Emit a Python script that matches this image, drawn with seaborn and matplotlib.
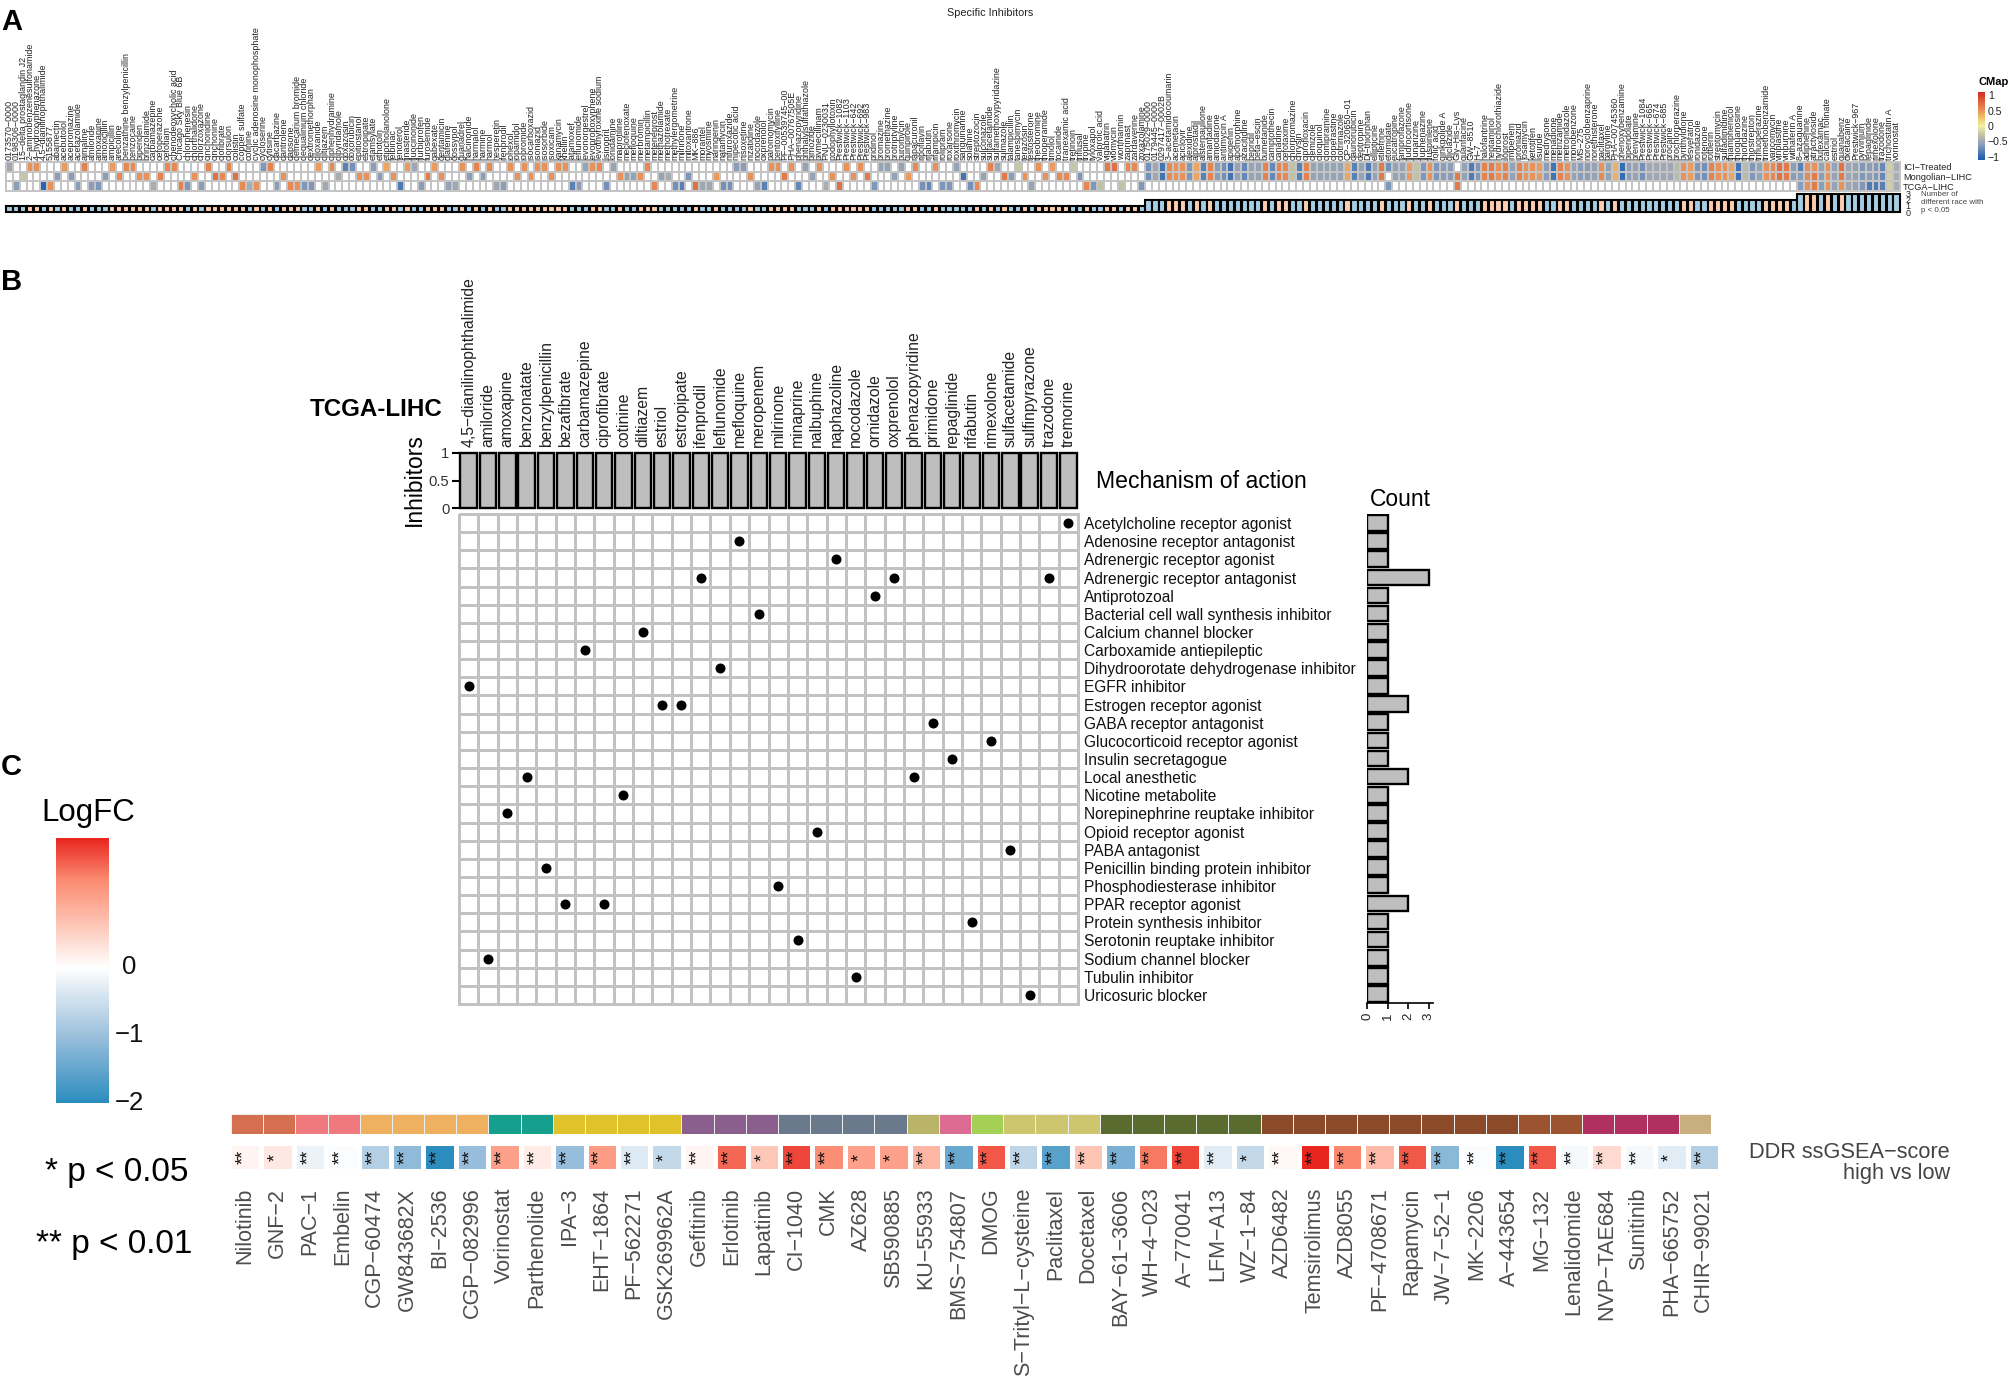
import numpy as np
import pandas as pd
import matplotlib
matplotlib.use("Agg")
import matplotlib.pyplot as plt
from matplotlib.colors import LinearSegmentedColormap, ListedColormap
from matplotlib.transforms import ScaledTranslation
import seaborn as sns

sns.set_theme(style="white")
plt.rcParams['font.family'] = ['Liberation Sans', 'DejaVu Sans']

_ = float('nan')
# ---------- Panel A data ----------
drugs_a = """0173570-0000|0198306-0000|15-delta prostaglandin J2|2-aminobenzenesulfonamide|4-hydroxyphenazone|4,5-dianilinophthalimide|5155877|abamectin|acebutolol|acepromazine|acetazolamide|ajmaline|amiloride|amoxapine|amoxicillin|ampicillin|arecoline|benzathine benzylpenicillin|benzocaine|biperiden|brinzolamide|carbamazepine|cefoperazone|cefotiam|chenodeoxycholic acid|Chicago Sky Blue 6B|chlorphenesin|chlorthalidone|chlorzoxazone|cinchonidine|cinchonine|clofibrate|clorsulon|colistin|copper sulfate|cotinine|cyclic adenosine monophosphate|cycloserine|cytisine|dacarbazine|dantrolene|dapsone|demecarium bromide|dequalinium chloride|dextromethorphan|diloxanide|diltiazem|diphenhydramine|dipyridamole|doxazosin|doxorubicin|epitiostanol|estropipate|etamsylate|ethotoin|etiocholanolone|felbinac|fenoterol|finasteride|fluocinonide|flurbiprofen|furosemide|gabexate|gentamicin|glafenine|gossypol|guanadrel|halcinonide|harmalol|harmine|harmol|hesperetin|ifenprodil|iohexol|iopamidol|iopromide|isocarboxazid|isoniazid|isosorbide|isoxicam|kanamycin|khellin|latamoxef|leflunomide|levonorgestrel|levopropoxyphene|levothyroxine sodium|lisinopril|lonidamine|maprotiline|meclofenoxate|mefloquine|merbromin|metampicillin|meteneprost|methazolamide|methotrexate|methylergometrine|milrinone|mitoxantrone|MK-886|morantel|myosmine|naringenin|natamycin|nifuroxazide|nipecotic acid|nisoxetine|nizatidine|nocodazole|oxprenolol|paromomycin|pentoxifylline|PF-00539745-00|PHA-00767505E|phenazopyridine|phthalylsulfathiazole|pimozide|pivmecillinam|PNU-0230031|podophyllotoxin|Prestwick-1082|Prestwick-1103|Prestwick-642|Prestwick-692|Prestwick-983|pridinol|promazine|promethazine|protriptyline|puromycin|quinpirole|rapacuronil|riboflavin|rifabutin|rifampicin|rolipram|roxarsone|roxithromycin|sanguinarine|solanine|streptozocin|sulconazole|sulfacetamide|sulfamethoxypyridazine|sulmazole|talampicillin|tanespimycin|terazosin|testosterone|theobromine|thioperamide|timolol|tocainide|tranexamic acid|tretinoin|triflusal|tropine|tyloxapol|valproic acid|vigabatrin|viomycin|wortmannin|zaprinast|zardaverine|zoxazolamine|0175029-0000|0179445-0000|0297417-0002B|3-acetamidocoumarin|acemetacin|aciclovir|alexidine|alprostadil|alsterpaullone|amantadine|amiodarone|antimycin A|apigenin|apomorphine|azacitidine|bepridil|beta-escin|bumetanide|camptothecin|canadine|cefotaxime|chlorpromazine|chrysin|ciprofloxacin|clemizole|clioquinol|clomipramine|cloperastine|clotrimazole|CP-320650-01|daunorubicin|deptropine|Dl-thiorphan|ellipticine|etilefrine|etomidate|eucatropine|famprofazone|fludrocortisone|flunarizine|fluphenazine|fluspirilene|folic acid|ginkgolide A|gliclazide|Gly-His-Lys|guanfacine|GW-8510|H-7|halofantrine|heptaminol|hydrochlorothiazide|iloprost|imipenem|iproniazid|josamycin|ketotifen|lisuride|medrysone|menadione|metrizamide|metronidazole|monobenzone|MS-275|norcyclobenzaprine|norethisterone|paclitaxel|pargyline|PHA-00745360|phenoxybenzamine|piperidolate|prenylamine|Prestwick-1084|Prestwick-665|Prestwick-674|Prestwick-685|procaine|prochlorperazine|pyrithyldione|resveratrol|ronidazole|rotenone|rottlerin|streptomycin|sulfadimidine|thiamphenicol|thioguanosine|thioridazine|thiostrepton|trifluoperazine|trimethobenzamide|vancomycin|vinblastine|vinburnine|withaferin A|8-azaguanine|adiphenine|atractyloside|bufexamac|calcium folinate|estriol|guanabenz|oxetacaine|Prestwick-967|pyrvinium|repaglinide|rimexolone|trazodone|trichostatin A|vorinostat""".split('|')
drugs_a = [d.replace('-', '\u2212') for d in drugs_a]

ici = [-.5,_,_,.5,.5,_,_,_,.45,_,
       _,.6,_,_,_,.45,_,.55,.55,_,
       _,_,_,.55,.55,_,_,_,_,.6,
       _,_,.6,_,_,_,_,-.65,.6,_,
       _,_,_,_,_,.45,_,.55,_,-.8,
       -.7,_,_,-.6,_,.4,_,_,.45,-.5,
       _,_,.45,_,_,_,.5,_,.6,_,
       .55,_,_,.5,_,.5,_,.5,.5,_,
       .5,.5,_,_,-.55,.5,.55,_,-.55,_,
       _,_,_,.55,_,_,_,_,_,_,
       _,_,_,_,_,_,-.6,-.6,_,_,
       _,.5,.5,_,.5,_,-.55,_,.5,_,
       _,_,.5,_,.5,_,_,-.55,-.55,_,
       -.55,_,.55,_,_,.5,_,_,-.55,_,
       _,_,_,.6,-.5,_,_,-.25,_,_,
       .5,_,.45,_,_,-.25,_,_,_,_,
       .65,.7,_,.55,.55,_,-.7,-.5,-.9,.55,
       .5,.5,-.65,.4,-.8,.6,-.6,-.7,-.9,-.55,
       -.75,-.55,-.55,.6,-.75,.6,.55,-.3,-.8,.6,
       -.55,-.55,-.55,-.55,-.55,.4,-.8,-.55,-.85,-.55,
       .65,-.7,-.55,-.55,.45,-.3,-.65,.5,-.65,-.6,
       -.6,_,-.55,-.85,-.65,.6,.65,.5,.6,-.55,
       .6,.5,.5,.45,-.6,-.9,.6,.5,-.55,-.6,
       -.6,-.55,.5,-.55,.35,-.95,-.6,-.55,-.7,-.5,
       -.5,-.5,-.5,-.35,.5,.45,-.65,-.7,.6,.5,
       .5,.4,-.9,-.35,-.65,-.55,.5,.55,.7,.65,
       -.6,-.8,.5,.5,-.55,.5,-.55,.7,-.5,-.55,
       -.65,-.6,-.65,-.75,-.2,-.45]

mongolian = [_,_,-.25,_,_,_,_,-.6,_,-.6,
       _,_,_,_,-.6,_,.55,_,_,.5,
       .5,_,.6,_,_,_,_,.5,_,_,
       .7,.55,_,.7,_,_,_,_,_,_,
       .5,_,_,_,_,_,_,_,-.45,_,
       _,.5,.5,_,-.6,_,.5,_,_,_,
       _,.65,_,.5,_,_,_,-.6,_,-.6,
       _,_,_,_,.5,_,.5,_,_,.5,
       _,_,_,_,_,_,_,_,_,.5,
       -.55,-.55,.5,_,_,-.55,-.45,_,_,-.65,
       _,_,_,.45,_,_,_,_,.5,_,
       _,_,_,.65,_,_,_,-.55,_,_,
       .5,_,_,.5,_,.65,_,_,_,-.55,
       _,.45,_,_,_,_,_,_,_,-.9,
       _,_,-.55,_,_,.65,-.6,_,.5,_,
       _,.5,_,.55,.55,_,-.65,_,_,_,
       _,_,_,_,_,_,-.7,-.5,-.9,.55,
       .5,.5,-.65,.4,-.8,.6,-.6,-.7,-.9,-.55,
       -.75,-.55,-.55,.6,-.75,.6,.55,-.3,-.8,.6,
       -.55,-.55,-.55,-.55,-.55,.4,-.8,-.55,-.85,-.55,
       .65,_,-.55,-.55,.45,-.3,-.65,.5,-.65,-.6,
       -.6,.65,-.55,-.85,-.65,.6,.65,.5,.6,-.55,
       .6,.5,.5,.45,-.6,-.9,.6,.5,-.55,-.6,
       -.6,-.55,.55,-.55,.35,-.95,-.6,-.55,-.7,-.5,
       -.5,-.5,-.5,-.35,.5,.45,-.65,-.7,.6,.5,
       .5,.4,-.9,-.35,-.65,-.55,.5,.55,.7,.65,
       -.6,-.6,.55,.65,-.6,.5,-.55,.65,-.5,-.55,
       -.65,-.6,-.65,-.75,-.2,-.45]

tcga = [_,-.6,_,_,_,-1,.5,_,_,_,
       -.6,_,-.6,-.65,_,_,_,_,_,_,
       _,-.45,_,_,_,.6,-.65,_,-.6,_,
       _,_,_,_,.55,-.45,.5,_,_,-.6,
       _,.55,.5,-.65,-.65,_,-.5,_,_,_,
       _,_,_,_,_,_,_,-.85,_,_,
       -.6,_,_,_,-.55,-.5,_,_,_,_,
       _,-.5,-.6,_,_,_,_,_,_,_,
       _,_,-.8,-.6,_,_,_,-.7,_,_,
       _,_,_,_,.55,_,_,-.7,-.8,_,
       .7,-.5,-.5,_,-.7,-.7,_,_,_,-.55,
       -.8,_,_,_,_,-.75,_,_,_,-.45,
       _,.7,_,_,_,_,-.65,_,_,_,
       _,_,_,-.7,-.75,_,-.65,-.65,_,_,
       -.7,.55,_,_,_,_,_,_,_,-.55,
       _,_,_,_,_,_,_,.55,-.65,-.3,
       _,_,-.3,_,_,-.65] + [_]*35 + [-.65] + [_]*9 + [.65] + [_]*49 + [
       -.6,.5,.65,-.6,.5,-.55,.5,-.5,-.55,-.65,-.85,-.85,-.8,-.2,-.45]
mongolian[148] = .5
rows_a = ['ICI\u2212Treated', 'Mongolian\u2212LIHC', 'TCGA\u2212LIHC']

# ---------- Panel B data ----------
drugs_b = ['4,5\u2212dianilinophthalimide','amiloride','amoxapine','benzonatate','benzylpenicillin','bezafibrate',
           'carbamazepine','ciprofibrate','cotinine','diltiazem','estriol','estropipate','ifenprodil','leflunomide',
           'mefloquine','meropenem','milrinone','minaprine','nalbuphine','naphazoline','nocodazole','ornidazole',
           'oxprenolol','phenazopyridine','primidone','repaglinide','rifabutin','rimexolone','sulfacetamide',
           'sulfinpyrazone','trazodone','tremorine']
moa = ['Acetylcholine receptor agonist','Adenosine receptor antagonist','Adrenergic receptor agonist',
       'Adrenergic receptor antagonist','Antiprotozoal','Bacterial cell wall synthesis inhibitor',
       'Calcium channel blocker','Carboxamide antiepileptic','Dihydroorotate dehydrogenase inhibitor',
       'EGFR inhibitor','Estrogen receptor agonist','GABA receptor antagonist','Glucocorticoid receptor agonist',
       'Insulin secretagogue','Local anesthetic','Nicotine metabolite','Norepinephrine reuptake inhibitor',
       'Opioid receptor agonist','PABA antagonist','Penicillin binding protein inhibitor',
       'Phosphodiesterase inhibitor','PPAR receptor agonist','Protein synthesis inhibitor',
       'Serotonin reuptake inhibitor','Sodium channel blocker','Tubulin inhibitor','Uricosuric blocker']
moa_members = [['tremorine'],['mefloquine'],['naphazoline'],['ifenprodil','oxprenolol','trazodone'],['ornidazole'],
               ['meropenem'],['diltiazem'],['carbamazepine'],['leflunomide'],['4,5\u2212dianilinophthalimide'],
               ['estriol','estropipate'],['primidone'],['rimexolone'],['repaglinide'],['benzonatate','phenazopyridine'],
               ['cotinine'],['amoxapine'],['nalbuphine'],['sulfacetamide'],['benzylpenicillin'],['milrinone'],
               ['bezafibrate','ciprofibrate'],['rifabutin'],['minaprine'],['amiloride'],['nocodazole'],['sulfinpyrazone']]

# ---------- Panel C data ----------
drugs_c = ['Nilotinib','GNF-2','PAC-1','Embelin','CGP-60474','GW843682X','BI-2536','CGP-082996','Vorinostat',
           'Parthenolide','IPA-3','EHT-1864','PF-562271','GSK269962A','Gefitinib','Erlotinib','Lapatinib','CI-1040',
           'CMK','AZ628','SB590885','KU-55933','BMS-754807','DMOG','S-Trityl-L-cysteine','Paclitaxel','Docetaxel',
           'BAY-61-3606','WH-4-023','A-770041','LFM-A13','WZ-1-84','AZD6482','Temsirolimus','AZD8055','PF-4708671',
           'Rapamycin','JW-7-52-1','MK-2206','A-443654','MG-132','Lenalidomide','NVP-TAE684','Sunitinib',
           'PHA-665752','CHIR-99021']
drugs_c = [d.replace('-', '\u2212') for d in drugs_c]
logfc = [.12,.25,-.2,-.05,-.75,-1.1,-2,-1.05,1.05,.2,-1.05,1.1,-.35,-.6,.12,1.5,.6,1.7,1.25,1.05,1.05,.8,-1.45,1.6,
         -.65,-1.6,.65,-1.3,1.4,1.7,-.3,-.6,.08,1.9,1.3,.75,1.6,-1.15,-.05,-2,1.6,-.1,.4,-.12,-.3,-.75]
stars = ['**','*','**','**','**','**','**','**','**','**','**','**','**','*','**','**','*','**','**','*','*','**','**',
         '**','**','**','**','**','**','**','**','*','**','**','**','**','**','**','**','**','**','**','**','**','*','**']
class_sizes = [2,2,4,2,4,3,4,1,1,1,3,5,8,2,3,1]
class_colors = ['#d4704f','#f0797d','#efb060','#14a08c','#e0c22a','#8b5f8d','#6a7a8c','#bab468','#dd6c92','#a3d055',
                '#cdc66f','#5a6b2f','#8b4a2a','#9c5430','#b03060','#c9ae80']

assert len(drugs_a) == len(ici) == len(mongolian) == len(tcga) == 276, (len(drugs_a), len(ici), len(mongolian), len(tcga))

W, H = 2010, 1378
fig = plt.figure(figsize=(W/100, H/100), dpi=100, facecolor='white')

def ax_px(x0, y0, x1, y1):
    return fig.add_axes([x0/W, 1-y1/H, (x1-x0)/W, (y1-y0)/H])

def txt(x, y, s, **kw):
    kw.setdefault('ha', 'left'); kw.setdefault('va', 'center')
    return fig.text(x/W, 1-y/H, s, **kw)

# ---------- Panel A ----------
txt(1, 22, 'A', fontsize=21, fontweight='bold', color='black')
txt(990, 13, 'Specific Inhibitors', fontsize=7.8, ha='center', color='#222222')

cmap_a = LinearSegmentedColormap.from_list('cmap', [
    (0.0, '#1f5ca8'), (0.1/2.2, '#2a66b0'), (0.45/2.2, '#7f97bb'), (0.6/2.2, '#a0a8b4'), (0.85/2.2, '#c6c8a4'),
    (1.1/2.2, '#f4efa4'), (1.35/2.2, '#f1c46c'), (1.6/2.2, '#e9925a'), (1.85/2.2, '#dd6a40'), (2.1/2.2, '#d73c2c'),
    (1.0, '#d43027')])
cmap_a.set_bad('white')

ax_a = ax_px(6, 162, 1900, 191)
cax_a = ax_px(1978, 92, 1985, 160)
mat_a = pd.DataFrame([ici, mongolian, tcga], index=rows_a, columns=drugs_a)
sns.heatmap(mat_a, ax=ax_a, cbar_ax=cax_a, cmap=cmap_a, vmin=-1.1, vmax=1.1, linewidths=1.15, linecolor='#c4c4c4',
            xticklabels=drugs_a, yticklabels=rows_a)
ax_a.collections[0].set_clip_on(False)
ax_a.xaxis.tick_top()
ax_a.yaxis.tick_right()
ax_a.tick_params(axis='x', length=0, pad=1.5, labelsize=6.4, rotation=90, colors='#222222')
ax_a.tick_params(axis='y', length=0, pad=2, labelsize=6.6, rotation=0, colors='#222222')
ax_a.set_xlabel(''); ax_a.set_ylabel('')
for t in ax_a.get_xticklabels():
    t.set_va('bottom')
cb = ax_a.collections[0].colorbar
cb.outline.set_visible(False)
cb.set_ticks([-1, -.5, 0, .5, 1], labels=['\u22121', '\u22120.5', '0', '0.5', '1'])
cb.ax.tick_params(length=5, width=1, color='white', direction='in', labelsize=7.6, pad=2, labelcolor='#222222')
txt(1978, 82, 'CMap', fontsize=8, fontweight='bold', color='black')

n_sig = np.sum(~np.isnan(mat_a.values), axis=0)
direction = np.where(np.nanmean(mat_a.values, axis=0) > 0, 'up', 'down')
df_bars = pd.DataFrame({'pos': np.arange(276), 'n': n_sig, 'direction': direction})
ax_n = ax_px(6, 193.5, 1900, 212)
sns.barplot(data=df_bars, x='pos', y='n', hue='direction', dodge=False, width=.9, ax=ax_n, legend=False,
            palette={'up': '#fdcdb0', 'down': '#a6cee3'}, edgecolor='black', linewidth=1.5, saturation=1)
for p in ax_n.patches:
    p.set_clip_on(False)
ax_n.set_xlim(-.5, 275.5); ax_n.set_ylim(0, 3)
ax_n.set_xticks([]); ax_n.set_xlabel(''); ax_n.set_ylabel('')
ax_n.yaxis.tick_right()
ax_n.set_yticks([0, 1, 2, 3], labels=['0', '1', '2', '3'])
ax_n.tick_params(axis='y', length=2.5, width=1.2, color='black', pad=1.5, labelsize=6.5, right=True, left=False,
                 labelrotation=0)
sns.despine(ax=ax_n, left=True, bottom=True, top=True, right=False)
ax_n.spines['right'].set_color('black'); ax_n.spines['right'].set_linewidth(1.2)
txt(1921, 194, 'Number of', fontsize=5.7, color='#444444')
txt(1921, 202, 'different race with', fontsize=5.7, color='#444444')
txt(1921, 211, 'p < 0.05', fontsize=5.7, color='#444444')

# ---------- Panel B ----------
txt(1, 282, 'B', fontsize=21, fontweight='bold', color='black')
txt(310, 410, 'TCGA-LIHC', fontsize=17.4, fontweight='bold', color='black')
txt(1096, 481, 'Mechanism of action', fontsize=16.6, color='black')
txt(1400, 500, 'Count', fontsize=16.5, ha='center', color='black')

member = np.array([[d in m for d in drugs_b] for m in moa_members], dtype=float)

ax_top = ax_px(459, 453, 1078, 508)
df_top = pd.DataFrame({'drug': drugs_b, 'n': member.sum(axis=0)})
sns.barplot(data=df_top, x='drug', y='n', order=drugs_b, color='#bebebe', saturation=1, width=.85, ax=ax_top,
            edgecolor='black', linewidth=1.7)
for p in ax_top.patches:
    p.set_clip_on(False)
ax_top.set_xlim(-.5, 31.5); ax_top.set_ylim(0, 1)
ax_top.xaxis.tick_top()
ax_top.set_xticks(range(32), labels=drugs_b)
ax_top.tick_params(axis='x', rotation=90, length=0, pad=4.5, labelsize=11.3, colors='#222222')
for t in ax_top.get_xticklabels():
    t.set_va('bottom')
ax_top.set_yticks([0, .5, 1], labels=['0', '0.5', '1'])
ax_top.tick_params(axis='y', left=True, length=5, width=1.5, color='black', pad=2, labelsize=10.6, labelcolor='#333333')
ax_top.set_xlabel(''); ax_top.set_ylabel('')
sns.despine(ax=ax_top, left=True, bottom=True, top=True, right=True)
txt(414, 480, 'Inhibitors', fontsize=16.5, rotation=90, ha='center', color='black')

ax_b = ax_px(459, 514, 1078, 1004)
sns.heatmap(pd.DataFrame(member, index=moa, columns=drugs_b), ax=ax_b, cmap=ListedColormap(['white']), cbar=False,
            linewidths=1.9, linecolor='#c2c2c2', xticklabels=False, yticklabels=moa)
ax_b.collections[0].set_clip_on(False)
rr, cc = np.where(member > 0)
ax_b.scatter(cc + .5, rr + .5, s=52, color='black', zorder=5, linewidths=0)
ax_b.yaxis.tick_right()
ax_b.tick_params(axis='y', length=0, pad=4, labelsize=11.2, rotation=0, colors='#111111')
ax_b.set_xlabel(''); ax_b.set_ylabel('')

ax_c2 = ax_px(1367, 514, 1433, 1003)
df_cnt = pd.DataFrame({'moa': moa, 'n': member.sum(axis=1)})
sns.barplot(data=df_cnt, y='moa', x='n', order=moa, orient='h', color='#bebebe', saturation=1, width=.86, ax=ax_c2,
            edgecolor='black', linewidth=1.7)
ax_c2.set_ylim(26.5, -.5); ax_c2.set_xlim(0, 3.2)
ax_c2.set_yticks([]); ax_c2.set_xlabel(''); ax_c2.set_ylabel('')
ax_c2.set_xticks([0, 1, 2, 3], labels=['0', '1', '2', '3'])
ax_c2.tick_params(axis='x', bottom=True, length=4.5, width=1.2, color='black', pad=2.5, labelsize=9.5, rotation=90,
                  labelcolor='#222222')
sns.despine(ax=ax_c2, left=True, top=True, right=True)
ax_c2.spines['bottom'].set_color('black'); ax_c2.spines['bottom'].set_linewidth(1.2)

# ---------- Panel C ----------
txt(1, 767, 'C', fontsize=21, fontweight='bold', color='black')
txt(88, 813, 'LogFC', fontsize=22.5, ha='center', color='black')

vmin_c, vmax_c = -2, 1.91
pos = lambda v: (v - vmin_c) / (vmax_c - vmin_c)
cmap_c = LinearSegmentedColormap.from_list('logfc', [
    (0, '#2b8cbe'), (pos(-1), '#9cc0dc'), (pos(0), '#ffffff'), (pos(.65), '#fec4b4'), (pos(1.3), '#fb8a70'),
    (1, '#e8261f')])

ax_heat = ax_px(229, 1143, 1720, 1171)
cax_c = ax_px(56, 838, 109, 1103)
sns.heatmap(pd.DataFrame([logfc], columns=drugs_c), ax=ax_heat, cbar_ax=cax_c, cmap=cmap_c, vmin=vmin_c, vmax=vmax_c,
            linewidths=2.2, linecolor='white', xticklabels=drugs_c, yticklabels=False)
ax_heat.tick_params(axis='x', length=0, pad=12, labelsize=15.5, rotation=90, colors='#4d4d4d')
for i, s in enumerate(stars):
    ax_heat.text(i + .45, .5, s, rotation=90, ha='center', va='center', fontsize=13, color='#111111')
ax_heat.set_xlabel(''); ax_heat.set_ylabel('')
cbc = ax_heat.collections[0].colorbar
cbc.outline.set_visible(False)
cbc.set_ticks([-2, -1, 0], labels=['\u22122', '\u22121', '0'])
cbc.ax.tick_params(length=7, width=1, color='white', direction='in', left=True, right=True, labelsize=18.5, pad=14.5,
                   labelcolor='#111111')
for t in cbc.ax.get_yticklabels():
    t.set_ha('center')
    t.set_transform(t.get_transform() + ScaledTranslation(0, 3/100, fig.dpi_scale_trans))

ax_strip = ax_px(231, 1114, 1711, 1134)
class_idx = np.repeat(np.arange(len(class_sizes)), class_sizes)
sns.heatmap(pd.DataFrame([class_idx], columns=drugs_c), ax=ax_strip, cmap=ListedColormap(class_colors), cbar=False,
            vmin=-.5, vmax=len(class_colors)-.5, linewidths=.5, linecolor='#eeeeee', xticklabels=False,
            yticklabels=False)
ax_strip.set_xlabel(''); ax_strip.set_ylabel('')

txt(45, 1172, '* p < 0.05', fontsize=24, color='black')
txt(36, 1244, '** p < 0.01', fontsize=24, color='black')
txt(1950, 1152, 'DDR ssGSEA\u2212score', fontsize=15.7, ha='right', color='#444444')
txt(1950, 1174, 'high vs low', fontsize=15.7, ha='right', color='#444444')

fig.savefig('out.png', dpi=100, facecolor='white')
